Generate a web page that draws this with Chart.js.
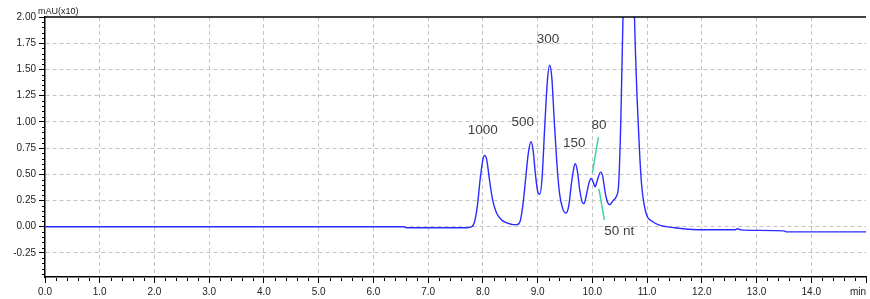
<!DOCTYPE html>
<html>
<head>
<meta charset="utf-8">
<script src="https://cdn.jsdelivr.net/npm/chart.js@4"></script>
<style>
  html, body { margin: 0; padding: 0; background: #fff; }
  canvas { display: block; }
</style>
</head>
<body>
<canvas id="chromChart" width="870" height="299"></canvas>
<script>
// retention time (min) and absorbance (mAU x10)
const times = [
  0, 6.55, 6.6, 7.7, 7.8, 7.85, 7.9, 7.95, 8.0, 8.03, 8.07, 8.12, 8.18, 8.25, 8.35, 8.45, 8.55, 8.62,
  8.68, 8.73, 8.78, 8.83, 8.88, 8.92, 8.96, 9.0, 9.04, 9.08, 9.13, 9.18, 9.22, 9.26, 9.3, 9.35, 9.4,
  9.46, 9.52, 9.57, 9.62, 9.67, 9.69, 9.73, 9.77, 9.82, 9.85, 9.89, 9.94, 9.98, 10.02, 10.05, 10.09,
  10.15, 10.19, 10.23, 10.28, 10.32, 10.38, 10.44, 10.48, 10.52, 10.56, 10.6, 10.67, 10.74, 10.77,
  10.82, 10.86, 10.9, 10.95, 11.0, 11.1, 11.2, 11.35, 11.5, 12.0, 12.6, 12.65, 12.72, 13.0, 13.5,
  13.55, 14.0, 15.0
];
const absorbance = [
  0, 0, -0.01, -0.01, 0.0, 0.05, 0.2, 0.45, 0.64, 0.68, 0.64, 0.45, 0.25, 0.13, 0.06, 0.035, 0.02, 0.02,
  0.05, 0.2, 0.45, 0.7, 0.81, 0.72, 0.5, 0.34, 0.31, 0.45, 0.95, 1.4, 1.54, 1.42, 1.05, 0.62, 0.32,
  0.17, 0.13, 0.2, 0.42, 0.58, 0.6, 0.52, 0.35, 0.23, 0.22, 0.3, 0.42, 0.46, 0.42, 0.38, 0.44,
  0.52, 0.48, 0.34, 0.23, 0.21, 0.25, 0.29, 0.4, 1.0, 2.0, 2.8, 3.2, 2.8, 2.0,
  1.2, 0.74, 0.4, 0.2, 0.1, 0.05, 0.02, 0.0, -0.01, -0.03, -0.03, -0.02, -0.03, -0.035, -0.04,
  -0.05, -0.05, -0.05
];

const yTicks = [-0.25, 0, 0.25, 0.5, 0.75, 1.0, 1.25, 1.5, 1.75, 2.0];

// peak labels: text, time, value
const peakLabels = ['1000', '500', '300', '150', '80', '50 nt'];
const peakLabelX = [8.0, 8.73, 9.19, 9.67, 10.12, 10.49];
const peakLabelY = [0.92, 1.0, 1.79, 0.80, 0.97, -0.04];

// leader lines for the 80 and 50 nt labels
const leaderX1 = [10.11, 10.12];
const leaderY1 = [0.855, 0.36];
const leaderX2 = [10.0, 10.22];
const leaderY2 = [0.51, 0.065];

const points = times.map((t, i) => ({ x: t, y: absorbance[i] }));

const tickFont = { family: 'Liberation Sans', size: 10 };

const extras = {
  id: 'extras',
  afterDraw(chart) {
    const ctx = chart.ctx;
    const xs = chart.scales.x;
    const ys = chart.scales.y;
    const area = chart.chartArea;
    ctx.save();

    // top frame line
    ctx.strokeStyle = '#000';
    ctx.lineWidth = 1.5;
    ctx.beginPath();
    ctx.moveTo(area.left, area.top);
    ctx.lineTo(area.right, area.top);
    ctx.stroke();

    // minor ticks
    ctx.lineWidth = 1;
    ctx.beginPath();
    for (let v = -0.45; v < 2.0; v += 0.05) {
      const r = Math.round(v * 100);
      if (r % 25 === 0) continue;
      const py = Math.round(ys.getPixelForValue(r / 100)) + 0.5;
      ctx.moveTo(area.left - 3, py);
      ctx.lineTo(area.left, py);
    }
    for (let v = 0.2; v < 15; v += 0.2) {
      const r = Math.round(v * 10);
      if (r % 10 === 0) continue;
      const px = Math.round(xs.getPixelForValue(r / 10)) + 0.5;
      ctx.moveTo(px, area.bottom + 1);
      ctx.lineTo(px, area.bottom + 4);
    }
    ctx.stroke();

    // axis unit labels
    ctx.fillStyle = '#222';
    ctx.font = '9px Liberation Sans';
    ctx.textAlign = 'left';
    ctx.textBaseline = 'bottom';
    ctx.fillText('mAU(x10)', area.left - 7, area.top - 1);
    ctx.font = '10px Liberation Sans';
    ctx.textAlign = 'center';
    ctx.textBaseline = 'middle';
    ctx.fillText('min', area.right - 8, 292);

    // leader lines
    ctx.strokeStyle = '#3fd3a6';
    ctx.lineWidth = 1.5;
    for (let i = 0; i < leaderX1.length; i++) {
      ctx.beginPath();
      ctx.moveTo(xs.getPixelForValue(leaderX1[i]), ys.getPixelForValue(leaderY1[i]));
      ctx.lineTo(xs.getPixelForValue(leaderX2[i]), ys.getPixelForValue(leaderY2[i]));
      ctx.stroke();
    }

    // peak labels
    ctx.fillStyle = '#404040';
    ctx.font = '13.5px Liberation Sans';
    for (let i = 0; i < peakLabels.length; i++) {
      ctx.fillText(peakLabels[i], xs.getPixelForValue(peakLabelX[i]), ys.getPixelForValue(peakLabelY[i]));
    }
    ctx.restore();
  }
};

new Chart(document.getElementById('chromChart'), {
  type: 'line',
  data: {
    datasets: [{
      data: points,
      borderColor: '#2b2bff',
      borderWidth: 1.4,
      pointRadius: 0,
      cubicInterpolationMode: 'monotone'
    }]
  },
  options: {
    responsive: false,
    animation: false,
    layout: { padding: { top: 17, right: 4, left: 0, bottom: 0 } },
    plugins: {
      legend: { display: false },
      tooltip: { enabled: false }
    },
    scales: {
      x: {
        type: 'linear',
        min: 0,
        max: 15,
        afterFit: s => { s.height = 22; },
        ticks: {
          stepSize: 1,
          autoSkip: false,
          maxRotation: 0,
          padding: 3,
          color: '#222',
          font: tickFont,
          callback: v => (v === 15 ? '' : v.toFixed(1))
        },
        grid: {
          color: c => (c.tick && (c.tick.value === 15 || c.tick.value === 0) ? 'rgba(0,0,0,0)' : '#c4c4c4'),
          lineWidth: 1,
          tickLength: 6,
          tickColor: '#000',
          tickWidth: 1
        },
        border: { display: true, color: '#000', width: 1.5, dash: [4, 3] }
      },
      y: {
        min: -0.48,
        max: 2.0,
        afterFit: s => { s.width = 45; },
        afterBuildTicks: s => { s.ticks = yTicks.map(v => ({ value: v })); },
        ticks: {
          padding: 3,
          color: '#222',
          font: tickFont,
          callback: v => v.toFixed(2)
        },
        grid: {
          color: c => (c.tick && c.tick.value === 2.0 ? 'rgba(0,0,0,0)' : '#c4c4c4'),
          lineWidth: 1,
          tickLength: 6,
          tickColor: '#000',
          tickWidth: 1
        },
        border: { display: true, color: '#000', width: 1.5, dash: [4, 3] }
      }
    }
  },
  plugins: [extras]
});
</script>
</body>
</html>
